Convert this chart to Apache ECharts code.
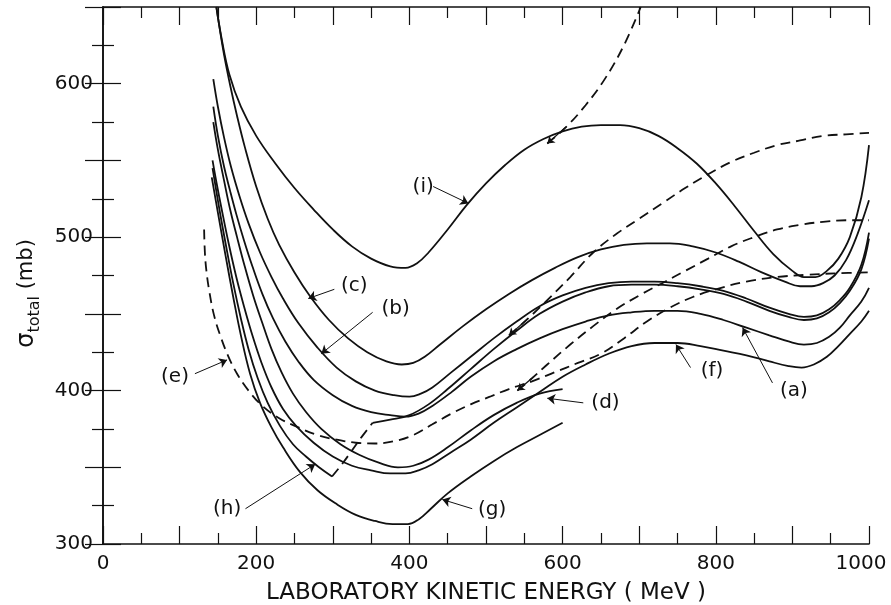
<!DOCTYPE html>
<html>
<head>
<meta charset="utf-8">
<title>Total cross section vs laboratory kinetic energy</title>
<script src="https://cdn.jsdelivr.net/npm/echarts@6/dist/echarts.min.js"></script>
<style>
  html, body { margin: 0; padding: 0; background: #fff; }
  #chart { width: 891px; height: 605px; }
</style>
</head>
<body>
<div id="chart"></div>
<script>
// [energy MeV, sigma mb]
const curveI = [[148,650],[155,629],[165,606],[180,585],[200,566],[225,548],[250,532],[275,518],[300,505],[325,494],[350,486],[375,481],[395,480],[410,483],[425,490],[450,505],[475,521],[500,535],[525,547],[550,557],[575,564],[600,569],[625,572],[650,573],[675,573],[700,571],[725,566],[750,558],[775,548],[800,535],[825,520],[850,504],[875,489],[900,478],[915,474],[930,474],[945,478],[960,486],[975,500],[990,526],[1000,560]]
const curveC = [[148,650],[152,637],[158,619],[166,599],[175,579],[185,559],[200,533],[215,512],[230,495],[250,477],[271,461],[295,446],[320,434],[345,425],[370,419],[390,417],[405,418],[420,422],[440,430],[470,442],[500,453],[530,463],[560,472],[590,480],[620,487],[650,492],[680,495],[710,496],[740,496],[770,494],[800,490],[830,484],[860,477],[890,471],[910,468],[925,468],[940,470],[955,475],[970,485],[985,502],[1000,524]]
const curveB = [[144,603],[150,585],[158,565],[167,546],[178,527],[190,509],[205,490],[220,474],[235,460],[255,444],[280,428],[305,415],[330,406],[355,400],[380,397],[400,396],[415,398],[430,402],[455,412],[480,422],[510,434],[540,445],[570,455],[600,462],[630,467],[660,470],[690,471],[720,471],[750,470],[780,468],[810,465],[840,460],[870,454],[895,450],[915,448],[932,449],[948,453],[962,459],[975,467],[990,482],[1000,503]]
const curveA = [[144,585],[150,566],[158,546],[166,530],[174,515],[184,498],[195,481],[208,463],[222,447],[238,432],[255,419],[275,407],[300,397],[325,390],[350,386],[375,384],[395,383],[412,385],[430,390],[455,399],[480,409],[510,419],[540,427],[570,434],[600,440],[630,445],[660,449],[690,451],[720,452],[750,452],[780,450],[810,446],[840,441],[870,436],[895,432],[915,430],[932,431],[948,435],[962,441],[975,449],[990,458],[1000,467]]
const curveD = [[144,575],[150,557],[158,537],[166,518],[175,500],[185,481],[196,462],[208,444],[220,427],[233,412],[248,398],[265,386],[285,375],[310,365],[335,358],[360,353],[385,350],[405,351],[425,355],[450,363],[480,374],[510,384],[540,392],[570,398],[600,401]]
const curveF = [[143,550],[148,536],[155,518],[164,496],[174,474],[184,455],[195,436],[207,418],[220,402],[235,388],[252,377],[275,366],[300,357],[325,351],[350,348],[375,346],[395,346],[412,348],[430,352],[455,360],[480,368],[510,379],[540,389],[570,399],[600,409],[630,417],[660,424],[690,429],[720,431],[750,431],[780,429],[810,426],[840,423],[870,419],[895,416],[912,415],[928,417],[945,422],[960,429],[975,437],[990,445],[1000,452]]
const curveG = [[142,539],[150,516],[160,488],[170,461],[180,436],[192,411],[205,392],[220,376],[235,363],[257,347],[280,335],[305,326],[330,319],[355,315],[378,313],[398,313],[412,316],[428,323],[450,333],[480,344],[510,354],[540,363],[570,371],[600,379]]
const curveH = [[143,545],[152,518],[160,496],[170,470],[180,447],[190,427],[202,408],[215,392],[231,377],[248,365],[265,357],[282,350],[299,344]]
const curveH2 = [[352,379],[375,381],[400,384],[425,391],[450,401],[480,414],[510,427],[540,439],[570,450],[600,458],[630,464],[660,468],[690,469],[720,469],[750,468],[780,466],[810,463],[840,458],[870,452],[895,448],[915,446],[932,447],[948,451],[962,457],[975,465],[990,479],[1000,499]]
const dashH = [[299,344],[312,352],[325,361],[338,370],[352,379]]
const dashE = [[132,505],[133,490],[135,478],[139,464],[145,449],[153,436],[163,423],[175,411],[190,400],[208,390],[230,382],[255,376],[280,371],[305,368],[330,366],[355,365.5],[380,367],[405,371],[430,378],[455,385],[480,391],[505,396],[530,401],[560,406],[590,412],[620,418],[650,424],[680,434],[710,445],[740,454],[770,461],[800,466],[840,471],[880,474],[920,475.5],[960,476.5],[1000,477]]
const dashI = [[580,561],[605,572],[630,586],[655,603],[680,625],[702,650]]
const dashTop = [[530,436],[555,447],[580,459],[610,474],[640,490],[670,502],[700,512],[730,522],[760,532],[790,541],[820,549],[850,555],[880,560],[910,563],[940,566],[970,567],[1000,568]]
const dashMid = [[541,400],[560,408],[580,417],[610,430],[640,442],[670,453],[700,462],[730,470],[760,478],[790,486],[820,494],[850,500],[880,505],[910,508],[940,510],[970,511],[1000,511]]

// curve labels: [text, label x, label y, arrow from x, from y, arrow to x, to y]
const notes = [
  ['(i)', 418, 533, 431, 533, 477, 522],
  ['(c)', 328, 468, 302, 466, 268, 460],
  ['(b)', 382, 453, 352, 451, 285, 424],
  ['(e)', 94, 409, 120, 411, 162, 420],
  ['(h)', 162, 323, 186, 323, 277, 352],
  ['(g)', 508, 322, 482, 323, 443, 329],
  ['(d)', 656, 392, 627, 392, 580, 395],
  ['(f)', 795, 413, 767, 415, 748, 430],
  ['(a)', 902, 400, 874, 405, 835, 441]
]

const chart = echarts.init(document.getElementById('chart'))

const ink = '#111'
const labelFont = 'DejaVu Sans'

const solid = (name, data) => ({
  name, type: 'line', data, symbol: 'none', smooth: 0.4,
  lineStyle: { color: ink, width: 1.8 }, silent: true
})
const dashed = (name, data) => ({
  name, type: 'line', data, symbol: 'none', smooth: 0.4,
  lineStyle: { color: ink, width: 1.8, type: [10, 6] }, silent: true
})

// arrowheads where the dashed curves meet a solid one
const dashEnds = [dashI, dashTop, dashMid].map(d => [{ coord: d[1] }, { coord: d[0] }])

const tickStyle = { color: ink, width: 1.2 }
const xAxisBase = {
  type: 'value', min: 0, max: 1000, interval: 100,
  axisLine: { show: true, lineStyle: { color: ink, width: 1.6 } },
  axisTick: { show: true, inside: true, length: 18, lineStyle: tickStyle },
  minorTick: { show: true, splitNumber: 2, length: 11, lineStyle: tickStyle },
  splitLine: { show: false }
}
const yAxisBase = {
  type: 'value', min: 300, max: 650, interval: 50,
  axisLine: { show: true, lineStyle: { color: ink, width: 1.6 } },
  axisTick: { show: true, inside: true, length: 18, lineStyle: tickStyle },
  minorTick: { show: true, splitNumber: 2, length: 11, lineStyle: tickStyle },
  splitLine: { show: false }
}

const option = {
  backgroundColor: '#fff',
  animation: false,
  grid: { left: 103, right: 22, top: 7, bottom: 61, outerBoundsMode: 'none', containLabel: false },
  xAxis: [
    {
      ...xAxisBase, position: 'bottom',
      axisLabel: {
        color: ink, fontFamily: labelFont, fontSize: 20, margin: 10,
        // the last label sits a little left of its tick, as in the figure
        formatter: v => (v === 1000 ? '{r|1000}' : v % 200 === 0 ? String(v) : ''),
        rich: { r: { color: ink, fontFamily: labelFont, fontSize: 20, padding: [0, 16, 0, 0] } }
      },
      name: 'LABORATORY KINETIC ENERGY ( MeV )',
      nameLocation: 'middle', nameGap: 38,
      nameTextStyle: { color: ink, fontFamily: labelFont, fontSize: 23 }
    },
    { ...xAxisBase, position: 'top', axisLabel: { show: false } }
  ],
  yAxis: [
    {
      ...yAxisBase, position: 'left',
      axisLabel: {
        color: ink, fontFamily: labelFont, fontSize: 20, margin: 10,
        formatter: v => (v % 100 === 0 ? String(v) : '')
      },
      name: '{s|σ}{t|total}{m| (mb)}',
      nameLocation: 'middle', nameGap: 60,
      nameTextStyle: {
        color: ink, fontFamily: labelFont, padding: [0, 36, 0, 0],
        rich: {
          s: { fontSize: 24, lineHeight: 32, verticalAlign: 'middle', fontFamily: labelFont, color: ink },
          t: { fontSize: 16, lineHeight: 16, verticalAlign: 'bottom', fontFamily: labelFont, color: ink },
          m: { fontSize: 21, lineHeight: 32, verticalAlign: 'middle', fontFamily: labelFont, color: ink }
        }
      }
    },
    { ...yAxisBase, position: 'right', axisLabel: { show: false } }
  ],
  series: [
    solid('(i)', curveI),
    solid('(c)', curveC),
    solid('(b)', curveB),
    solid('(a)', curveA),
    solid('(d)', curveD),
    solid('(f)', curveF),
    solid('(g)', curveG),
    solid('(h)', curveH),
    solid('(h) upper', curveH2),
    dashed('(h) link', dashH),
    dashed('(e)', dashE),
    dashed('(i) dashed', dashI),
    dashed('upper dashed', dashTop),
    dashed('middle dashed', dashMid),
    {
      name: 'notes', type: 'line', data: [], silent: true,
      markPoint: {
        symbol: 'circle', symbolSize: 1,
        itemStyle: { color: 'rgba(0,0,0,0)' },
        label: { show: true, position: 'inside', color: ink, fontFamily: labelFont, fontSize: 20, formatter: p => p.name },
        data: notes.map(n => ({ name: n[0], coord: [n[1], n[2]] }))
      },
      markLine: {
        silent: true, symbol: ['none', 'arrow'], symbolSize: 8,
        label: { show: false },
        lineStyle: { color: ink, width: 1, type: 'solid' },
        data: notes.map(n => [{ coord: [n[3], n[4]] }, { coord: [n[5], n[6]] }])
      }
    },
    {
      name: 'dash ends', type: 'line', data: [], silent: true,
      markLine: {
        silent: true, symbol: ['none', 'arrow'], symbolSize: 7,
        label: { show: false },
        lineStyle: { color: ink, width: 1.2, type: 'solid' },
        data: dashEnds
      }
    }
  ]
}

chart.setOption(option)
window.addEventListener('resize', () => chart.resize())
</script>
</body>
</html>
